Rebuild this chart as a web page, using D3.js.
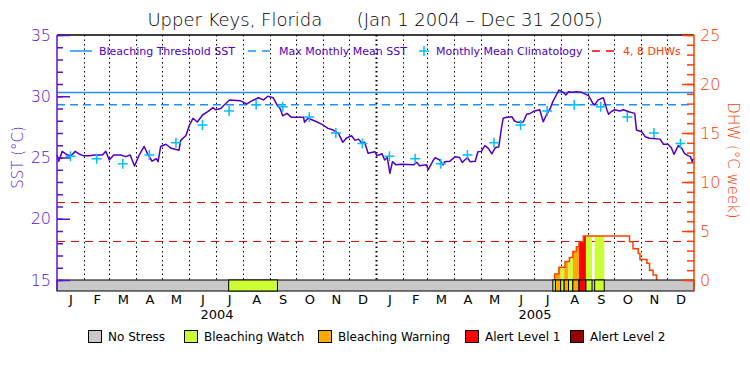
<!DOCTYPE html>
<html>
<head>
<meta charset="utf-8">
<script src="https://cdn.jsdelivr.net/npm/d3@7"></script>
<style>
  body { margin: 0; background: #fff; }
  svg text { font-family: "DejaVu Sans", sans-serif; }
</style>
</head>
<body>
<div id="chart"></div>
<script>
// Data (day = days since Jan 1 2004)
const monthLetters = ["J", "F", "M", "A", "M", "J", "J", "A", "S", "O", "N", "D"];
const years = [2004, 2005];
const climatology = [25.1, 24.9, 24.5, 25.2, 26.2, 27.65, 28.8, 29.3, 29.15, 28.3, 27.0, 26.15];
const mmm = 29.3;
const threshold = 30.3;
const dhwLevels = [4, 8];

const sstDay = [0, 2, 6, 12, 16, 21, 26, 30, 37, 43, 52, 56, 60, 65, 73, 79, 84, 89, 94, 100,
  104, 109, 114, 116, 119, 125, 131, 140, 142, 148, 152, 156, 161, 167, 173, 179, 182, 188, 191, 198,
  210, 218, 223, 231, 237, 242, 248, 253, 256, 259, 264, 269, 283, 284, 288, 296, 304, 311, 317, 323,
  328, 332, 338, 342, 346, 350, 353, 357, 362, 365, 367, 371, 373, 376, 379, 382, 385, 389, 395, 409,
  413, 416, 424, 426, 432, 434, 439, 443, 445, 451, 457, 462, 465, 468, 471, 474, 480, 483, 487, 491,
  495, 499, 503, 507, 510, 512, 516, 522, 525, 529, 535, 539, 543, 548, 554, 558, 562, 566, 569, 573,
  576, 581, 584, 587, 592, 596, 602, 610, 615, 617, 621, 627, 631, 633, 636, 640, 646, 650, 656, 663,
  665, 671, 675, 680, 692, 696, 701, 705, 708, 713, 717, 720, 724, 727, 729, 730];
const sstTemp = [25.2, 24.7, 25.5, 25.2, 25.15, 25.5, 25.26, 25.15, 25.15, 25.2, 25.2, 25.5, 24.8, 25.2, 25.2, 25.07, 25.2, 24.3, 25.15, 25.9,
  25.3, 24.7, 24.9, 24.66, 25.9, 26.08, 25.75, 25.6, 26.4, 26.8, 27.65, 28.2, 27.9, 28.47, 28.74, 29.07, 28.9, 29.0, 29.23, 29.7,
  29.64, 29.37, 29.6, 29.88, 29.7, 30.0, 29.88, 29.23, 29.0, 28.4, 28.6, 28.28, 28.28, 27.87, 28.2, 27.98, 27.7, 27.38, 27.24, 26.97,
  26.24, 26.57, 26.78, 26.4, 26.5, 26.16, 26.24, 25.34, 25.42, 25.47, 25.15, 25.25, 25.3, 24.8, 25.0, 23.7, 24.66, 24.4, 24.45, 24.4,
  24.6, 24.33, 24.4, 24.0, 24.8, 24.98, 24.8, 24.4, 24.66, 24.7, 25.07, 25.0, 24.6, 24.8, 25.0, 24.66, 24.7, 25.47, 25.5, 25.97,
  25.75, 25.3, 25.8, 25.88, 27.38, 28.2, 28.28, 28.33, 27.98, 27.87, 27.9, 28.53, 28.6, 28.8, 28.9, 27.92, 28.53, 29.0, 29.56, 30.1,
  30.5, 30.32, 30.1, 30.37, 30.32, 30.37, 30.32, 30.05, 29.42, 29.3, 29.7, 29.88, 28.9, 28.53, 28.74, 28.9, 28.8, 28.9, 28.74, 28.6,
  27.24, 27.1, 26.7, 26.57, 26.5, 26.08, 26.08, 25.8, 25.26, 25.97, 25.75, 25.34, 25.15, 25.07, 24.66, 24.9];

const dhwDay = [571, 576, 583, 588, 592, 596, 599, 604, 657, 661, 667, 669, 677, 680, 684, 688];
const dhwValue = [0.6, 1.3, 1.9, 2.3, 2.9, 3.4, 3.9, 4.5, 3.9, 3.2, 2.7, 2.1, 1.7, 1.0, 0.5, 0];

const stressStart = [197, 569, 572, 578, 582, 587, 592, 599, 607, 617];
const stressEnd = [253, 572, 578, 582, 587, 592, 599, 607, 614, 628];
const stressLevel = [1, 1, 2, 1, 2, 1, 2, 3, 1, 1];

const stressNames = ["No Stress", "Bleaching Watch", "Bleaching Warning", "Alert Level 1", "Alert Level 2"];
const stressColors = ["#c8c8c8", "#ccff33", "#ffaa00", "#ff0000", "#960000"];

// Colours
const sstColor = "#5000c8";
const blue = "#1e90ff";
const cyan = "#00c0ff";
const dhwColor = "#ff4000";

const width = 750, height = 375;
const plotLeft = 57, plotRight = 694, plotTop = 35, plotBottom = 280, barBottom = 291;

const svg = d3.select("#chart").append("svg")
    .attr("width", width)
    .attr("height", height);

svg.append("rect").attr("width", width).attr("height", height).attr("fill", "#fff");

const t0 = new Date(Date.UTC(2004, 0, 1));
const t1 = new Date(Date.UTC(2006, 0, 1));
const day = (d) => d3.utcDay.offset(t0, d);
const crisp = (v) => Math.round(v) + 0.5;

const x = d3.scaleUtc().domain([t0, t1]).range([plotLeft, plotRight]);
const ySst = d3.scaleLinear().domain([15, 35]).range([plotBottom, plotTop]);
const yDhw = d3.scaleLinear().domain([0, 25]).range([plotBottom, plotTop]);

// Month boundaries (dotted)
const monthStarts = d3.utcMonth.range(d3.utcMonth.offset(t0, 1), t1);
svg.append("g").selectAll("line")
    .data(monthStarts)
    .enter()
    .append("line")
    .attr("x1", (d) => crisp(x(d)))
    .attr("x2", (d) => crisp(x(d)))
    .attr("y1", plotTop)
    .attr("y2", plotBottom)
    .attr("stroke", "#000")
    .attr("stroke-width", (d) => d.getUTCMonth() === 0 ? 2 : 1)
    .attr("stroke-dasharray", "1.5,3");

// Reference lines
svg.append("line")
    .attr("x1", plotLeft).attr("x2", plotRight)
    .attr("y1", ySst(threshold)).attr("y2", ySst(threshold))
    .attr("stroke", blue).attr("stroke-width", 1.5);

svg.append("line")
    .attr("x1", plotLeft).attr("x2", plotRight)
    .attr("y1", ySst(mmm)).attr("y2", ySst(mmm))
    .attr("stroke", blue).attr("stroke-width", 1.5)
    .attr("stroke-dasharray", "8,5");

svg.append("g").selectAll("line")
    .data(dhwLevels)
    .enter()
    .append("line")
    .attr("x1", plotLeft).attr("x2", plotRight)
    .attr("y1", (d) => crisp(yDhw(d))).attr("y2", (d) => crisp(yDhw(d)))
    .attr("stroke", "#ff0000").attr("stroke-width", 1.2)
    .attr("stroke-dasharray", "8,6");

// DHW fill coloured by stress level
const dhwAt = (d) => {
    let v = 0;
    dhwDay.forEach((s, i) => { if (s <= d) v = dhwValue[i]; });
    return v;
};
const area = d3.area()
    .curve(d3.curveStepAfter)
    .x((p) => x(day(p[0])))
    .y0(yDhw(0))
    .y1((p) => yDhw(p[1]));

stressStart.forEach((s, i) => {
    const e = stressEnd[i];
    const pts = [[s, dhwAt(s)]];
    dhwDay.forEach((d, j) => { if (d > s && d < e) pts.push([d, dhwValue[j]]); });
    pts.push([e, dhwAt(e)]);
    svg.append("path")
        .datum(pts)
        .attr("fill", stressColors[stressLevel[i]])
        .attr("d", area);
});

// DHW outline
const dhwPts = [[dhwDay[0], 0]].concat(dhwDay.map((d, i) => [d, dhwValue[i]]));
svg.append("path")
    .datum(dhwPts)
    .attr("fill", "none")
    .attr("stroke", dhwColor)
    .attr("stroke-width", 1.5)
    .attr("d", d3.line().curve(d3.curveStepAfter)
        .x((p) => x(day(p[0])))
        .y((p) => yDhw(p[1])));

// SST line
svg.append("path")
    .datum(sstDay.map((d, i) => [d, sstTemp[i]]))
    .attr("fill", "none")
    .attr("stroke", sstColor)
    .attr("stroke-width", 1.5)
    .attr("stroke-linejoin", "round")
    .attr("d", d3.line()
        .x((p) => x(day(p[0])))
        .y((p) => ySst(p[1])));

// Monthly mean climatology crosses
const climPts = [];
years.forEach((yr) => {
    climatology.forEach((v, m) => {
        const a = new Date(Date.UTC(yr, m, 1));
        const b = new Date(Date.UTC(yr, m + 1, 1));
        climPts.push({ date: new Date((+a + +b) / 2), value: v });
    });
});
const cross = (g, cx, cy) => {
    g.append("path")
        .attr("d", `M${cx - 5},${cy}H${cx + 5}M${cx},${cy - 5}V${cy + 5}`)
        .attr("stroke", cyan)
        .attr("stroke-width", 1.5)
        .attr("fill", "none");
};
const climG = svg.append("g");
climPts.forEach((p) => cross(climG, x(p.date), ySst(p.value)));

// Stress bar along the bottom
svg.append("rect")
    .attr("x", plotLeft).attr("y", plotBottom)
    .attr("width", plotRight - plotLeft).attr("height", barBottom - plotBottom)
    .attr("fill", stressColors[0])
    .attr("stroke", "#000");

svg.append("g").selectAll("rect")
    .data(stressStart)
    .enter()
    .append("rect")
    .attr("x", (d) => x(day(d)))
    .attr("y", plotBottom)
    .attr("width", (d, i) => x(day(stressEnd[i])) - x(day(d)))
    .attr("height", barBottom - plotBottom)
    .attr("fill", (d, i) => stressColors[stressLevel[i]])
    .attr("stroke", "#000");

// Top border
svg.append("line")
    .attr("x1", plotLeft).attr("x2", plotRight)
    .attr("y1", plotTop).attr("y2", plotTop)
    .attr("stroke", "#000").attr("stroke-width", 1.5);

// Left axis (SST)
const axisColor = "#5a14d2";
const gL = svg.append("g").attr("transform", `translate(${plotLeft},0)`);
gL.call(d3.axisLeft(ySst).tickValues(d3.range(15, 36)).tickSize(-6).tickFormat(""));
gL.append("g").call(d3.axisLeft(ySst).tickValues([15, 20, 25, 30, 35]).tickSize(-13).tickPadding(6));
gL.selectAll(".domain").remove();
gL.selectAll("line").attr("stroke", axisColor).attr("stroke-width", 1.5);
gL.selectAll("text").attr("fill", axisColor).style("font-size", "16px").style("font-weight", 300).attr("font-family", null);
gL.append("line").attr("y1", plotTop).attr("y2", barBottom).attr("stroke", axisColor).attr("stroke-width", 1.5);

svg.append("text")
    .attr("transform", `translate(18,${(plotTop + plotBottom) / 2}) rotate(-90)`)
    .attr("text-anchor", "middle")
    .attr("dy", "0.35em")
    .attr("fill", axisColor)
    .style("font-size", "15px")
    .style("font-weight", 300)
    .text("SST (°C)");

// Right axis (DHW)
const gR = svg.append("g").attr("transform", `translate(${plotRight},0)`);
gR.call(d3.axisRight(yDhw).tickValues(d3.range(0, 26)).tickSize(-7).tickFormat(""));
gR.append("g").call(d3.axisRight(yDhw).tickValues([0, 5, 10, 15, 20, 25]).tickSize(-12).tickPadding(6));
gR.selectAll(".domain").remove();
gR.selectAll("line").attr("stroke", dhwColor).attr("stroke-width", 1.5);
gR.selectAll("text").attr("fill", dhwColor).style("font-size", "16px").style("font-weight", 300).attr("font-family", null);
gR.append("line").attr("y1", plotTop).attr("y2", barBottom).attr("stroke", dhwColor).attr("stroke-width", 1.5);

svg.append("text")
    .attr("transform", `translate(733,${(plotTop + plotBottom) / 2 + 3}) rotate(90)`)
    .attr("text-anchor", "middle")
    .attr("dy", "0.35em")
    .attr("fill", dhwColor)
    .style("font-size", "15px")
    .style("font-weight", 300)
    .text("DHW (°C week)");

// Month and year labels
const midMonths = d3.utcMonth.range(t0, t1).map((m) => new Date((+m + +d3.utcMonth.offset(m, 1)) / 2));
const gM = svg.append("g").attr("transform", `translate(0,${barBottom})`)
    .call(d3.axisBottom(x).tickValues(midMonths).tickSize(0).tickPadding(4)
        .tickFormat((d) => monthLetters[d.getUTCMonth()]));
gM.select(".domain").remove();
gM.selectAll("text").style("font-size", "13px").attr("font-family", null).attr("fill", "#000");

const midYears = years.map((yr) => new Date(Date.UTC(yr, 6, 2)));
const gY = svg.append("g").attr("transform", `translate(0,${barBottom})`)
    .call(d3.axisBottom(x).tickValues(midYears).tickSize(0).tickPadding(19)
        .tickFormat((d) => d.getUTCFullYear()));
gY.select(".domain").remove();
gY.selectAll("text").style("font-size", "13px").attr("font-family", null).attr("fill", "#000");

// Title
svg.append("text")
    .attr("x", 375).attr("y", 26)
    .attr("text-anchor", "middle")
    .style("font-size", "18px")
    .style("font-weight", 300)
    .style("white-space", "pre")
    .attr("fill", "#000")
    .text("Upper Keys, Florida      (Jan 1 2004 \u2013 Dec 31 2005)");

// Top legend
const legY = 51;
const leg = svg.append("g").style("font-size", "11px");
leg.append("line").attr("x1", 70).attr("x2", 92).attr("y1", legY).attr("y2", legY)
    .attr("stroke", blue).attr("stroke-width", 1.5);
leg.append("text").attr("x", 99).attr("y", legY).attr("dy", "0.35em").attr("fill", sstColor)
    .text("Bleaching Threshold SST");
leg.append("line").attr("x1", 248).attr("x2", 272).attr("y1", legY).attr("y2", legY)
    .attr("stroke", blue).attr("stroke-width", 1.5).attr("stroke-dasharray", "8,6");
leg.append("text").attr("x", 279).attr("y", legY).attr("dy", "0.35em").attr("fill", sstColor)
    .text("Max Monthly Mean SST");
cross(leg, 424, legY);
leg.append("text").attr("x", 436).attr("y", legY).attr("dy", "0.35em").attr("fill", sstColor)
    .text("Monthly Mean Climatology");
leg.append("line").attr("x1", 592).attr("x2", 616).attr("y1", legY).attr("y2", legY)
    .attr("stroke", "#ff0000").attr("stroke-width", 1.5).attr("stroke-dasharray", "8,6");
leg.append("text").attr("x", 623).attr("y", legY).attr("dy", "0.35em").attr("fill", dhwColor)
    .text("4, 8 DHWs");

// Bottom legend
const boxX = [88, 184, 318, 465, 570];
const bleg = svg.append("g").style("font-size", "12px");
stressNames.forEach((name, i) => {
    bleg.append("rect")
        .attr("x", boxX[i] + 0.5).attr("y", 330.5)
        .attr("width", 13).attr("height", 12)
        .attr("fill", stressColors[i]).attr("stroke", "#000");
    bleg.append("text")
        .attr("x", boxX[i] + 20).attr("y", 336.5).attr("dy", "0.35em")
        .attr("fill", "#000")
        .text(name);
});
</script>
</body>
</html>
